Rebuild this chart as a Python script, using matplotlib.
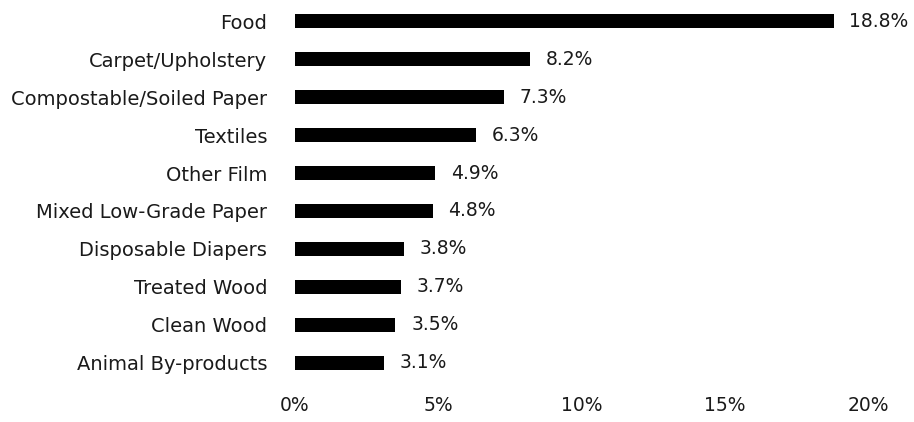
import matplotlib.pyplot as plt
from matplotlib.ticker import FuncFormatter

plt.rcParams['font.family'] = ['DejaVu Sans']

categories = ['Food', 'Carpet/Upholstery', 'Compostable/Soiled Paper', 'Textiles',
              'Other Film', 'Mixed Low-Grade Paper', 'Disposable Diapers',
              'Treated Wood', 'Clean Wood', 'Animal By-products']
shares = [18.8, 8.2, 7.3, 6.3, 4.9, 4.8, 3.8, 3.7, 3.5, 3.1]
x_ticks = [0, 5, 10, 15, 20]

fig = plt.figure(figsize=(9.14, 4.22), dpi=100)
ax = fig.add_axes([0.3228, 0.095, 0.627, 0.90])

pos = range(len(categories))
ax.barh(pos, shares, height=0.37, color='black')
for y, v in zip(pos, shares):
    ax.text(v + 0.55, y, f'{v:.1f}%', va='center', ha='left', fontsize=13.5, color='#1a1a1a')

ax.set_ylim(len(categories) - 0.5, -0.5)
ax.set_xlim(0, 20)
ax.set_xticks(x_ticks)
ax.xaxis.set_major_formatter(FuncFormatter(lambda v, p: f'{v:.0f}%'))
ax.set_yticks(list(pos))
ax.set_yticklabels(categories)
ax.tick_params(axis='x', length=0, pad=10, labelsize=13.5, labelcolor='#1a1a1a')
ax.tick_params(axis='y', length=0, pad=20, labelsize=14, labelcolor='#1a1a1a')
for s in ax.spines.values():
    s.set_visible(False)

fig.savefig('out.png', dpi=100)
